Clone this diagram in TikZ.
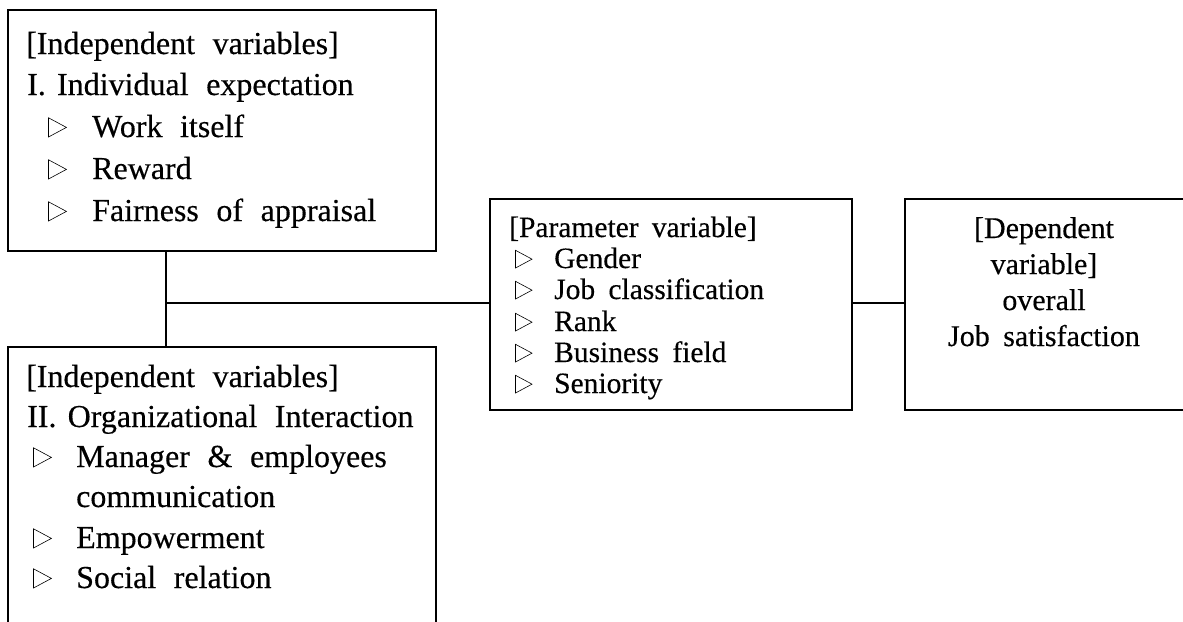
\documentclass[tikz,border=0pt]{standalone}
\usepackage{fontspec}
\setmainfont{Liberation Serif}[FakeBold=0.35]
% outlined bullet triangle, sized from the current font
\newcommand{\tri}{\tikz[baseline=0pt]\draw[line width=0.6pt,line join=miter] (0pt,0pt)--(0pt,0.6em)--(0.56em,0.3em)--cycle;}
\newcommand{\itm}[1]{\makebox[#1][l]{\tri}}
\newcommand{\bigfont}{\fontsize{32}{41}\selectfont\spaceskip=0.55em\relax}
\newcommand{\parfont}{\fontsize{29.5}{31}\selectfont\spaceskip=0.45em\relax}
\newcommand{\depfont}{\fontsize{30}{37}\selectfont\spaceskip=0.45em\relax}
\begin{document}
\begin{tikzpicture}[x=1pt,y=-1pt,
  frame/.style={draw,line width=1.7pt,rectangle,inner sep=0pt,outer sep=0pt,anchor=north west},
  wire/.style={line width=1.5pt},
  bigtxt/.style={font=\bigfont,anchor=base west,inner sep=0pt},
  partxt/.style={font=\parfont,anchor=base west,inner sep=0pt},
  deptxt/.style={font=\depfont,anchor=base,inner sep=0pt}]
\useasboundingbox (0,0) rectangle (1183,621);
\clip (0,0) rectangle (1183,621);

% boxes
\node[frame,minimum width=428pt,minimum height=241pt] (indA) at (8,10) {};
\node[frame,minimum width=428pt,minimum height=300pt] (indB) at (8,347) {};
\node[frame,minimum width=362pt,minimum height=211pt] (par) at (490,199) {};
\node[frame,minimum width=320pt,minimum height=211pt] (dep) at (905,199) {};

% connectors
\coordinate (jn) at (166,303);
\draw[wire] (indA.south -| jn) -- (indB.north -| jn);
\draw[wire] (jn) -- (jn -| par.west);
\draw[wire] (par.east |- jn) -- (dep.west |- jn);

% independent variables I
\node[bigtxt] (a1) at (26,54) {{[}Independent variables]};
\node[bigtxt] (a2) at (27,95) {I.\kern0.35em Individual expectation};
\node[bigtxt] (a3) at (48,137) {\itm{44pt}Work itself};
\node[bigtxt] (a4) at (48,179) {\itm{44pt}Reward};
\node[bigtxt] (a5) at (48,221) {\itm{44pt}Fairness of appraisal};

% independent variables II
\node[bigtxt] (b1) at (26,387) {{[}Independent variables]};
\node[bigtxt] (b2) at (27,427) {II.\kern0.35em Organizational Interaction};
\node[bigtxt] (b3) at (33,467) {\itm{43pt}Manager \& employees};
\node[bigtxt] (b4) at (76,507) {communication};
\node[bigtxt] (b5) at (33,548) {\itm{43pt}Empowerment};
\node[bigtxt] (b6) at (33,588) {\itm{43pt}Social relation};

% parameter variable
\node[partxt] (p1) at (509,237) {{[}Parameter variable]};
\node[partxt] (p2) at (515,268) {\itm{39pt}Gender};
\node[partxt] (p3) at (515,299) {\itm{39pt}Job classification};
\node[partxt] (p4) at (515,331) {\itm{39pt}Rank};
\node[partxt] (p5) at (515,362) {\itm{39pt}Business field};
\node[partxt] (p6) at (515,393) {\itm{39pt}Seniority};

% dependent variable
\node[deptxt] (d1) at (1044,238) {{[}Dependent};
\node[deptxt] (d2) at (1044,274) {variable]};
\node[deptxt] (d3) at (1044,310) {overall};
\node[deptxt] (d4) at (1044,346) {Job satisfaction};
\end{tikzpicture}
\end{document}
